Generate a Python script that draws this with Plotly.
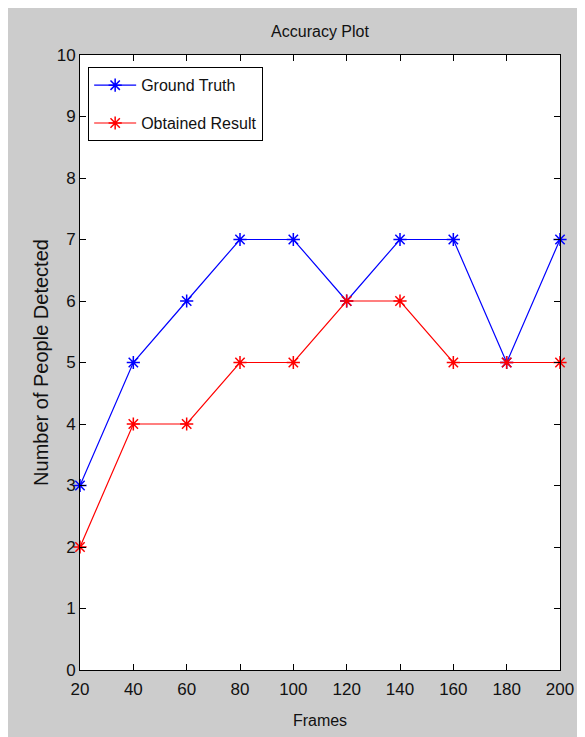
import plotly.graph_objects as go

frames = [20, 40, 60, 80, 100, 120, 140, 160, 180, 200]
ground_truth = [3, 5, 6, 7, 7, 6, 7, 7, 5, 7]
obtained = [2, 4, 4, 5, 5, 6, 6, 5, 5, 5]
x_ticks = [20, 40, 60, 80, 100, 120, 140, 160, 180, 200]
y_ticks = [0, 1, 2, 3, 4, 5, 6, 7, 8, 9, 10]

# page body has an 8px margin, so the figure is a little smaller than the window
W, H = 577, 729
L, R, T, B = 72, 25, 47, 67
pw, ph = W - L - R, H - T - B

narrow = "Liberation Sans Narrow, Arial Narrow, Liberation Sans, Arial"

fig = go.Figure()
fig.add_trace(go.Scatter(
    x=frames, y=ground_truth, mode="lines+markers", name="Ground Truth",
    legendgroup="gt",
    line=dict(color="#0000ff", width=1.2),
    marker=dict(symbol="asterisk-open", size=11, line=dict(color="#0000ff", width=1.5)),
    cliponaxis=False,
))
fig.add_trace(go.Scatter(
    x=frames, y=obtained, mode="lines+markers", name="Obtained Result",
    legendgroup="or",
    line=dict(color="#ff0000", width=1.2),
    marker=dict(symbol="asterisk-open", size=11, line=dict(color="#ff0000", width=1.5)),
    cliponaxis=False,
))

fig.update_layout(
    width=W, height=H,
    margin=dict(l=L, r=R, t=T, b=B, autoexpand=False),
    paper_bgcolor="#cccccc",
    plot_bgcolor="white",
    title=dict(text="Accuracy Plot", x=(L + pw / 2) / W, xanchor="center",
               y=1 - 23 / H, yanchor="middle",
               font=dict(family=narrow, size=16, color="#111111")),
    showlegend=True,
    legend=dict(x=0.017, y=0.98, xanchor="left", yanchor="top",
                bgcolor="white", bordercolor="black", borderwidth=1,
                font=dict(family=narrow, size=16, color="#111111"),
                itemwidth=42, tracegroupgap=14),
    xaxis=dict(range=[20, 200], tickvals=x_ticks, ticktext=[str(v) for v in x_ticks],
               ticks="inside", ticklen=6, tickcolor="black", showline=True,
               linecolor="black", linewidth=1, mirror="ticks", showgrid=False,
               zeroline=False, automargin=False, ticklabelstandoff=4,
               tickfont=dict(family=narrow, size=17, color="#111111"),
               title=dict(text="Frames", font=dict(family=narrow, size=16, color="#111111"),
                          standoff=16)),
    yaxis=dict(range=[0, 10], tickvals=y_ticks, ticktext=[str(v) for v in y_ticks],
               ticks="inside", ticklen=6, tickcolor="black", showline=True,
               linecolor="black", linewidth=1, mirror="ticks", showgrid=False,
               zeroline=False, automargin=False,
               tickfont=dict(family=narrow, size=17, color="#111111"),
               title=dict(text="Number of People Detected",
                          font=dict(family="Liberation Sans, Arial", size=20, color="#111111"),
                          standoff=2)),
)

fig.write_html("out.html")
